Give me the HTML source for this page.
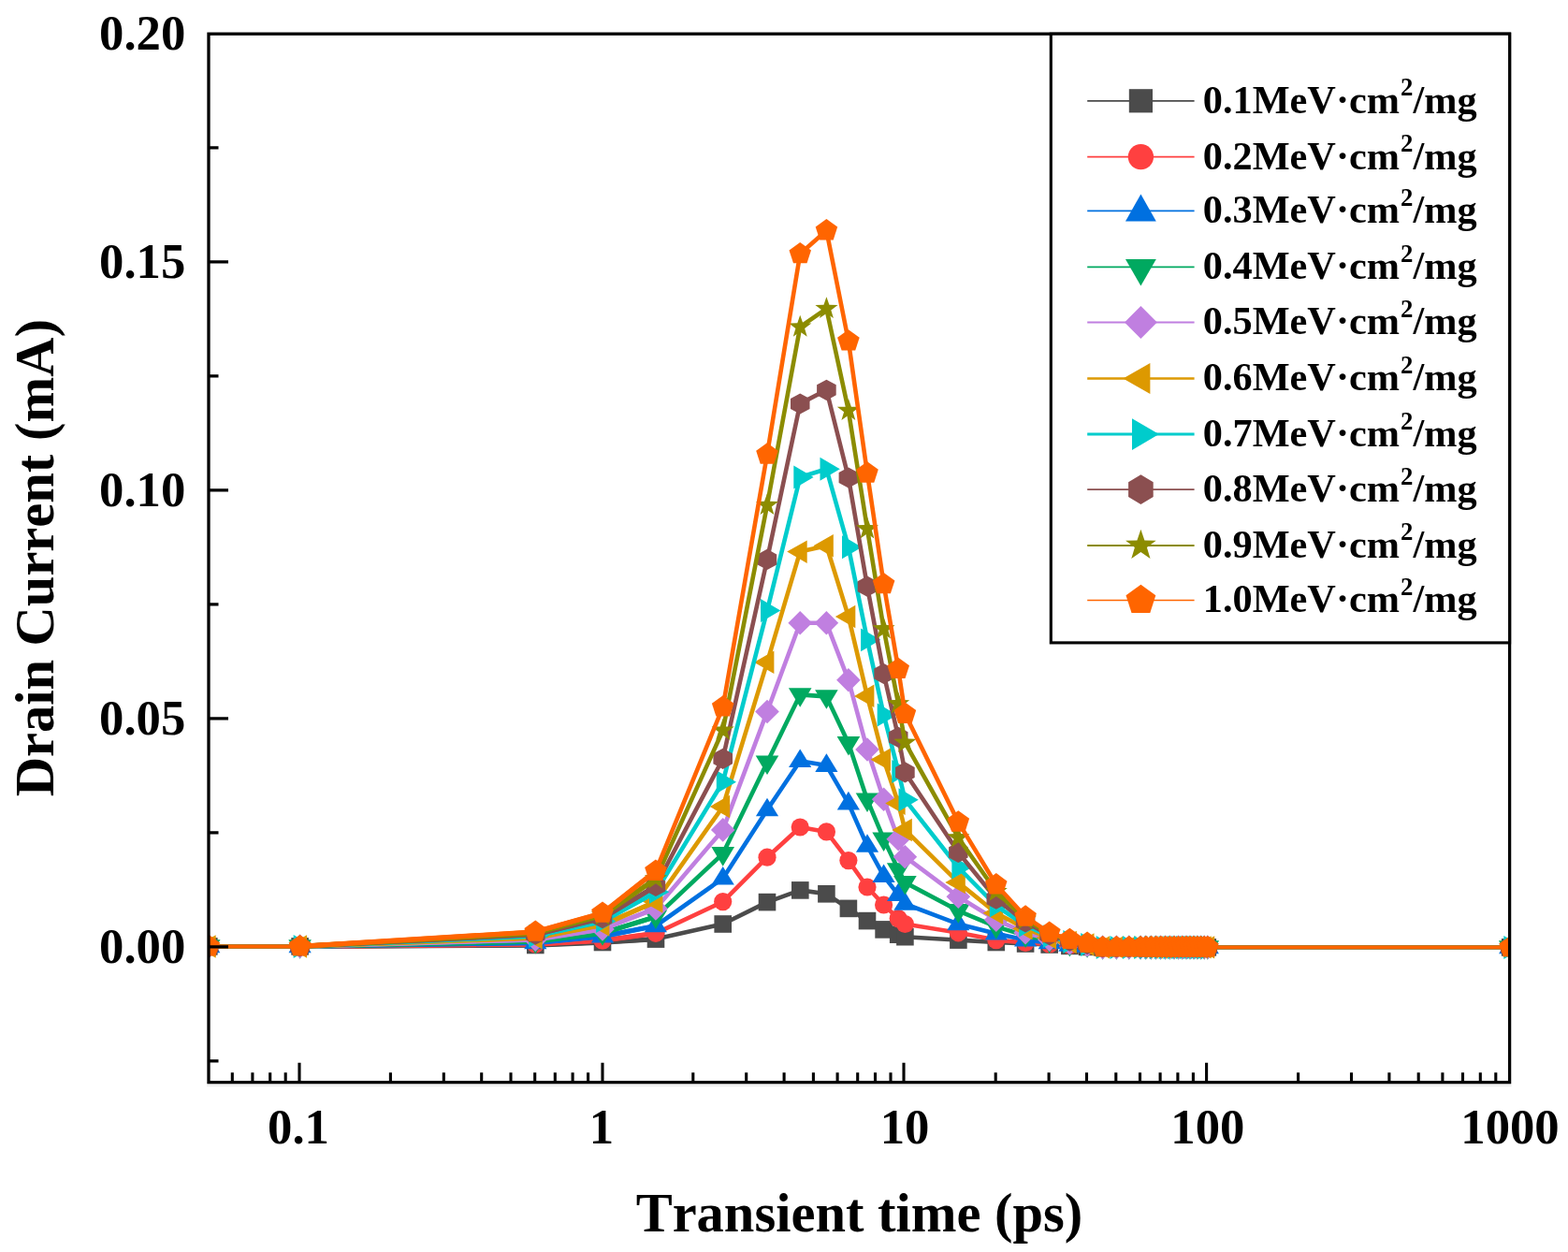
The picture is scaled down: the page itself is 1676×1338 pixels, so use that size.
<!DOCTYPE html>
<html lang="en"><head><meta charset="utf-8"><title>Drain Current vs Transient time</title>
<style>html,body{margin:0;padding:0;background:#fff;}body{width:1676px;height:1338px;overflow:hidden;}svg{display:block;}text{font-family:"Liberation Serif",serif;font-weight:bold;fill:#000;font-kerning:none;}</style></head><body>
<svg width="1676" height="1338" viewBox="0 0 1676 1338">
<defs><clipPath id="plotclip"><rect x="223.0" y="36.2" width="1390.6" height="1120.5"/></clipPath></defs>
<rect width="1676" height="1338" fill="#fff"/>
<g id="series" clip-path="url(#plotclip)">
<g><polyline points="320.6,1011.4 572.3,1010.0 644.0,1007.0 700.9,1003.6 772.7,987.5 820.0,964.1 855.2,951.4 883.4,955.3 906.9,970.9 927.0,984.1 944.6,993.4 960.2,998.7 967.4,1001.2 1024.3,1004.6 1064.8,1007.0 1096.1,1008.5 1121.7,1009.5 1143.4,1010.9 1162.1,1011.9 1178.6,1012.4 1193.4,1012.4 1206.8,1012.4 1219.1,1012.4 1224.8,1012.4 1230.3,1012.4 1235.6,1012.4 1240.7,1012.4 1245.6,1012.4 1250.4,1012.4 1255.0,1012.4 1259.5,1012.4 1263.8,1012.4 1268.0,1012.4 1272.0,1012.4 1276.0,1012.4 1279.9,1012.4 1283.6,1012.4 1287.2,1012.4 1290.8,1012.4" fill="none" stroke="#4B4B4B" stroke-width="4.6" stroke-linejoin="round"/>
<polyline points="223.2,1011.4 320.6,1011.4" fill="none" stroke="#4B4B4B" stroke-width="4.0"/>
<polyline points="1290.8,1012.4 1614.2,1012.4" fill="none" stroke="#4B4B4B" stroke-width="3.9"/>
<polyline points="320.6,1011.4 572.3,1010.0 644.0,1007.0 700.9,1003.6" fill="none" stroke="#4B4B4B" stroke-width="5.3" stroke-linejoin="round"/>
<rect x="214.0" y="1002.1" width="18.6" height="18.6" fill="#4B4B4B"/>
<rect x="311.3" y="1002.1" width="18.6" height="18.6" fill="#4B4B4B"/>
<rect x="563.0" y="1000.7" width="18.6" height="18.6" fill="#4B4B4B"/>
<rect x="634.7" y="997.7" width="18.6" height="18.6" fill="#4B4B4B"/>
<rect x="691.7" y="994.3" width="18.6" height="18.6" fill="#4B4B4B"/>
<rect x="763.4" y="978.2" width="18.6" height="18.6" fill="#4B4B4B"/>
<rect x="810.7" y="954.8" width="18.6" height="18.6" fill="#4B4B4B"/>
<rect x="846.0" y="942.1" width="18.6" height="18.6" fill="#4B4B4B"/>
<rect x="874.1" y="946.0" width="18.6" height="18.6" fill="#4B4B4B"/>
<rect x="897.6" y="961.6" width="18.6" height="18.6" fill="#4B4B4B"/>
<rect x="917.7" y="974.8" width="18.6" height="18.6" fill="#4B4B4B"/>
<rect x="935.3" y="984.1" width="18.6" height="18.6" fill="#4B4B4B"/>
<rect x="950.9" y="989.4" width="18.6" height="18.6" fill="#4B4B4B"/>
<rect x="958.1" y="991.9" width="18.6" height="18.6" fill="#4B4B4B"/>
<rect x="1015.1" y="995.3" width="18.6" height="18.6" fill="#4B4B4B"/>
<rect x="1055.5" y="997.7" width="18.6" height="18.6" fill="#4B4B4B"/>
<rect x="1086.8" y="999.2" width="18.6" height="18.6" fill="#4B4B4B"/>
<rect x="1112.4" y="1000.2" width="18.6" height="18.6" fill="#4B4B4B"/>
<rect x="1134.1" y="1001.6" width="18.6" height="18.6" fill="#4B4B4B"/>
<rect x="1152.8" y="1002.6" width="18.6" height="18.6" fill="#4B4B4B"/>
<rect x="1169.4" y="1003.1" width="18.6" height="18.6" fill="#4B4B4B"/>
<rect x="1184.2" y="1003.1" width="18.6" height="18.6" fill="#4B4B4B"/>
<rect x="1197.5" y="1003.1" width="18.6" height="18.6" fill="#4B4B4B"/>
<rect x="1209.8" y="1003.1" width="18.6" height="18.6" fill="#4B4B4B"/>
<rect x="1215.5" y="1003.1" width="18.6" height="18.6" fill="#4B4B4B"/>
<rect x="1221.0" y="1003.1" width="18.6" height="18.6" fill="#4B4B4B"/>
<rect x="1226.3" y="1003.1" width="18.6" height="18.6" fill="#4B4B4B"/>
<rect x="1231.4" y="1003.1" width="18.6" height="18.6" fill="#4B4B4B"/>
<rect x="1236.3" y="1003.1" width="18.6" height="18.6" fill="#4B4B4B"/>
<rect x="1241.1" y="1003.1" width="18.6" height="18.6" fill="#4B4B4B"/>
<rect x="1245.7" y="1003.1" width="18.6" height="18.6" fill="#4B4B4B"/>
<rect x="1250.2" y="1003.1" width="18.6" height="18.6" fill="#4B4B4B"/>
<rect x="1254.5" y="1003.1" width="18.6" height="18.6" fill="#4B4B4B"/>
<rect x="1258.7" y="1003.1" width="18.6" height="18.6" fill="#4B4B4B"/>
<rect x="1262.8" y="1003.1" width="18.6" height="18.6" fill="#4B4B4B"/>
<rect x="1266.7" y="1003.1" width="18.6" height="18.6" fill="#4B4B4B"/>
<rect x="1270.6" y="1003.1" width="18.6" height="18.6" fill="#4B4B4B"/>
<rect x="1274.3" y="1003.1" width="18.6" height="18.6" fill="#4B4B4B"/>
<rect x="1278.0" y="1003.1" width="18.6" height="18.6" fill="#4B4B4B"/>
<rect x="1281.5" y="1003.1" width="18.6" height="18.6" fill="#4B4B4B"/>
<rect x="1604.9" y="1003.1" width="18.6" height="18.6" fill="#4B4B4B"/>
</g>
<g><polyline points="320.6,1011.4 572.3,1009.0 644.0,1005.1 700.9,997.3 772.7,963.6 820.0,916.2 855.2,884.0 883.4,888.9 906.9,919.6 927.0,948.0 944.6,967.0 960.2,981.6 967.4,987.5 1024.3,996.8 1064.8,1004.6 1096.1,1007.5 1121.7,1009.0 1143.4,1010.4 1162.1,1011.4 1178.6,1012.4 1193.4,1012.4 1206.8,1012.4 1219.1,1012.4 1224.8,1012.4 1230.3,1012.4 1235.6,1012.4 1240.7,1012.4 1245.6,1012.4 1250.4,1012.4 1255.0,1012.4 1259.5,1012.4 1263.8,1012.4 1268.0,1012.4 1272.0,1012.4 1276.0,1012.4 1279.9,1012.4 1283.6,1012.4 1287.2,1012.4 1290.8,1012.4" fill="none" stroke="#FF4040" stroke-width="4.6" stroke-linejoin="round"/>
<polyline points="223.2,1011.4 320.6,1011.4" fill="none" stroke="#FF4040" stroke-width="4.0"/>
<polyline points="1290.8,1012.4 1614.2,1012.4" fill="none" stroke="#FF4040" stroke-width="3.9"/>
<polyline points="320.6,1011.4 572.3,1009.0 644.0,1005.1 700.9,997.3" fill="none" stroke="#FF4040" stroke-width="5.3" stroke-linejoin="round"/>
<circle cx="223.2" cy="1011.4" r="9.6" fill="#FF4040"/>
<circle cx="320.6" cy="1011.4" r="9.6" fill="#FF4040"/>
<circle cx="572.3" cy="1009.0" r="9.6" fill="#FF4040"/>
<circle cx="644.0" cy="1005.1" r="9.6" fill="#FF4040"/>
<circle cx="700.9" cy="997.3" r="9.6" fill="#FF4040"/>
<circle cx="772.7" cy="963.6" r="9.6" fill="#FF4040"/>
<circle cx="820.0" cy="916.2" r="9.6" fill="#FF4040"/>
<circle cx="855.2" cy="884.0" r="9.6" fill="#FF4040"/>
<circle cx="883.4" cy="888.9" r="9.6" fill="#FF4040"/>
<circle cx="906.9" cy="919.6" r="9.6" fill="#FF4040"/>
<circle cx="927.0" cy="948.0" r="9.6" fill="#FF4040"/>
<circle cx="944.6" cy="967.0" r="9.6" fill="#FF4040"/>
<circle cx="960.2" cy="981.6" r="9.6" fill="#FF4040"/>
<circle cx="967.4" cy="987.5" r="9.6" fill="#FF4040"/>
<circle cx="1024.3" cy="996.8" r="9.6" fill="#FF4040"/>
<circle cx="1064.8" cy="1004.6" r="9.6" fill="#FF4040"/>
<circle cx="1096.1" cy="1007.5" r="9.6" fill="#FF4040"/>
<circle cx="1121.7" cy="1009.0" r="9.6" fill="#FF4040"/>
<circle cx="1143.4" cy="1010.4" r="9.6" fill="#FF4040"/>
<circle cx="1162.1" cy="1011.4" r="9.6" fill="#FF4040"/>
<circle cx="1178.6" cy="1012.4" r="9.6" fill="#FF4040"/>
<circle cx="1193.4" cy="1012.4" r="9.6" fill="#FF4040"/>
<circle cx="1206.8" cy="1012.4" r="9.6" fill="#FF4040"/>
<circle cx="1219.1" cy="1012.4" r="9.6" fill="#FF4040"/>
<circle cx="1224.8" cy="1012.4" r="9.6" fill="#FF4040"/>
<circle cx="1230.3" cy="1012.4" r="9.6" fill="#FF4040"/>
<circle cx="1235.6" cy="1012.4" r="9.6" fill="#FF4040"/>
<circle cx="1240.7" cy="1012.4" r="9.6" fill="#FF4040"/>
<circle cx="1245.6" cy="1012.4" r="9.6" fill="#FF4040"/>
<circle cx="1250.4" cy="1012.4" r="9.6" fill="#FF4040"/>
<circle cx="1255.0" cy="1012.4" r="9.6" fill="#FF4040"/>
<circle cx="1259.5" cy="1012.4" r="9.6" fill="#FF4040"/>
<circle cx="1263.8" cy="1012.4" r="9.6" fill="#FF4040"/>
<circle cx="1268.0" cy="1012.4" r="9.6" fill="#FF4040"/>
<circle cx="1272.0" cy="1012.4" r="9.6" fill="#FF4040"/>
<circle cx="1276.0" cy="1012.4" r="9.6" fill="#FF4040"/>
<circle cx="1279.9" cy="1012.4" r="9.6" fill="#FF4040"/>
<circle cx="1283.6" cy="1012.4" r="9.6" fill="#FF4040"/>
<circle cx="1287.2" cy="1012.4" r="9.6" fill="#FF4040"/>
<circle cx="1290.8" cy="1012.4" r="9.6" fill="#FF4040"/>
<circle cx="1614.2" cy="1012.4" r="9.6" fill="#FF4040"/>
</g>
<g><polyline points="320.6,1011.4 572.3,1007.5 644.0,1000.7 700.9,989.5 772.7,938.7 820.0,865.5 855.2,813.2 883.4,818.1 906.9,858.6 927.0,904.0 944.6,936.2 960.2,956.3 967.4,966.0 1024.3,987.5 1064.8,997.8 1096.1,1004.6 1121.7,1007.5 1143.4,1010.0 1162.1,1010.9 1178.6,1012.4 1193.4,1012.4 1206.8,1012.4 1219.1,1012.4 1224.8,1012.4 1230.3,1012.4 1235.6,1012.4 1240.7,1012.4 1245.6,1012.4 1250.4,1012.4 1255.0,1012.4 1259.5,1012.4 1263.8,1012.4 1268.0,1012.4 1272.0,1012.4 1276.0,1012.4 1279.9,1012.4 1283.6,1012.4 1287.2,1012.4 1290.8,1012.4" fill="none" stroke="#0070E0" stroke-width="4.6" stroke-linejoin="round"/>
<polyline points="223.2,1011.4 320.6,1011.4" fill="none" stroke="#0070E0" stroke-width="4.0"/>
<polyline points="1290.8,1012.4 1614.2,1012.4" fill="none" stroke="#0070E0" stroke-width="3.9"/>
<polyline points="320.6,1011.4 572.3,1007.5 644.0,1000.7 700.9,989.5" fill="none" stroke="#0070E0" stroke-width="5.3" stroke-linejoin="round"/>
<polygon points="223.2,998.6 235.3,1018.2 211.1,1018.2" fill="#0070E0"/>
<polygon points="320.6,998.6 332.7,1018.2 308.5,1018.2" fill="#0070E0"/>
<polygon points="572.3,994.7 584.4,1014.3 560.2,1014.3" fill="#0070E0"/>
<polygon points="644.0,987.9 656.1,1007.5 631.9,1007.5" fill="#0070E0"/>
<polygon points="700.9,976.7 713.0,996.3 688.8,996.3" fill="#0070E0"/>
<polygon points="772.7,925.9 784.8,945.5 760.6,945.5" fill="#0070E0"/>
<polygon points="820.0,852.7 832.1,872.3 807.9,872.3" fill="#0070E0"/>
<polygon points="855.2,800.4 867.3,820.0 843.1,820.0" fill="#0070E0"/>
<polygon points="883.4,805.3 895.5,824.9 871.3,824.9" fill="#0070E0"/>
<polygon points="906.9,845.8 919.0,865.4 894.8,865.4" fill="#0070E0"/>
<polygon points="927.0,891.2 939.1,910.8 914.9,910.8" fill="#0070E0"/>
<polygon points="944.6,923.4 956.7,943.0 932.5,943.0" fill="#0070E0"/>
<polygon points="960.2,943.5 972.3,963.1 948.1,963.1" fill="#0070E0"/>
<polygon points="967.4,953.2 979.5,972.8 955.3,972.8" fill="#0070E0"/>
<polygon points="1024.3,974.7 1036.4,994.3 1012.2,994.3" fill="#0070E0"/>
<polygon points="1064.8,985.0 1076.9,1004.6 1052.7,1004.6" fill="#0070E0"/>
<polygon points="1096.1,991.8 1108.2,1011.4 1084.0,1011.4" fill="#0070E0"/>
<polygon points="1121.7,994.7 1133.8,1014.3 1109.6,1014.3" fill="#0070E0"/>
<polygon points="1143.4,997.2 1155.5,1016.8 1131.3,1016.8" fill="#0070E0"/>
<polygon points="1162.1,998.1 1174.2,1017.7 1150.0,1017.7" fill="#0070E0"/>
<polygon points="1178.6,999.6 1190.7,1019.2 1166.5,1019.2" fill="#0070E0"/>
<polygon points="1193.4,999.6 1205.5,1019.2 1181.3,1019.2" fill="#0070E0"/>
<polygon points="1206.8,999.6 1218.9,1019.2 1194.7,1019.2" fill="#0070E0"/>
<polygon points="1219.1,999.6 1231.2,1019.2 1207.0,1019.2" fill="#0070E0"/>
<polygon points="1224.8,999.6 1236.9,1019.2 1212.7,1019.2" fill="#0070E0"/>
<polygon points="1230.3,999.6 1242.4,1019.2 1218.2,1019.2" fill="#0070E0"/>
<polygon points="1235.6,999.6 1247.7,1019.2 1223.5,1019.2" fill="#0070E0"/>
<polygon points="1240.7,999.6 1252.8,1019.2 1228.6,1019.2" fill="#0070E0"/>
<polygon points="1245.6,999.6 1257.7,1019.2 1233.5,1019.2" fill="#0070E0"/>
<polygon points="1250.4,999.6 1262.5,1019.2 1238.3,1019.2" fill="#0070E0"/>
<polygon points="1255.0,999.6 1267.1,1019.2 1242.9,1019.2" fill="#0070E0"/>
<polygon points="1259.5,999.6 1271.6,1019.2 1247.4,1019.2" fill="#0070E0"/>
<polygon points="1263.8,999.6 1275.9,1019.2 1251.7,1019.2" fill="#0070E0"/>
<polygon points="1268.0,999.6 1280.1,1019.2 1255.9,1019.2" fill="#0070E0"/>
<polygon points="1272.0,999.6 1284.1,1019.2 1259.9,1019.2" fill="#0070E0"/>
<polygon points="1276.0,999.6 1288.1,1019.2 1263.9,1019.2" fill="#0070E0"/>
<polygon points="1279.9,999.6 1292.0,1019.2 1267.8,1019.2" fill="#0070E0"/>
<polygon points="1283.6,999.6 1295.7,1019.2 1271.5,1019.2" fill="#0070E0"/>
<polygon points="1287.2,999.6 1299.3,1019.2 1275.1,1019.2" fill="#0070E0"/>
<polygon points="1290.8,999.6 1302.9,1019.2 1278.7,1019.2" fill="#0070E0"/>
<polygon points="1614.2,999.6 1626.3,1019.2 1602.1,1019.2" fill="#0070E0"/>
</g>
<g><polyline points="320.6,1011.4 572.3,1006.1 644.0,997.3 700.9,979.7 772.7,912.3 820.0,814.7 855.2,742.4 883.4,744.4 906.9,794.2 927.0,854.7 944.6,896.7 960.2,929.4 967.4,943.1 1024.3,973.3 1064.8,990.4 1096.1,999.7 1121.7,1005.6 1143.4,1009.0 1162.1,1010.4 1178.6,1012.4 1193.4,1012.4 1206.8,1012.4 1219.1,1012.4 1224.8,1012.4 1230.3,1012.4 1235.6,1012.4 1240.7,1012.4 1245.6,1012.4 1250.4,1012.4 1255.0,1012.4 1259.5,1012.4 1263.8,1012.4 1268.0,1012.4 1272.0,1012.4 1276.0,1012.4 1279.9,1012.4 1283.6,1012.4 1287.2,1012.4 1290.8,1012.4" fill="none" stroke="#00A960" stroke-width="4.6" stroke-linejoin="round"/>
<polyline points="223.2,1011.4 320.6,1011.4" fill="none" stroke="#00A960" stroke-width="4.0"/>
<polyline points="1290.8,1012.4 1614.2,1012.4" fill="none" stroke="#00A960" stroke-width="3.9"/>
<polyline points="320.6,1011.4 572.3,1006.1 644.0,997.3 700.9,979.7" fill="none" stroke="#00A960" stroke-width="5.3" stroke-linejoin="round"/>
<polygon points="223.2,1024.8 235.5,1004.2 210.9,1004.2" fill="#00A960"/>
<polygon points="320.6,1024.8 332.9,1004.2 308.3,1004.2" fill="#00A960"/>
<polygon points="572.3,1019.5 584.6,998.9 560.0,998.9" fill="#00A960"/>
<polygon points="644.0,1010.7 656.3,990.1 631.7,990.1" fill="#00A960"/>
<polygon points="700.9,993.1 713.2,972.5 688.6,972.5" fill="#00A960"/>
<polygon points="772.7,925.7 785.0,905.1 760.4,905.1" fill="#00A960"/>
<polygon points="820.0,828.1 832.3,807.5 807.7,807.5" fill="#00A960"/>
<polygon points="855.2,755.8 867.5,735.2 842.9,735.2" fill="#00A960"/>
<polygon points="883.4,757.8 895.7,737.2 871.1,737.2" fill="#00A960"/>
<polygon points="906.9,807.6 919.2,787.0 894.6,787.0" fill="#00A960"/>
<polygon points="927.0,868.1 939.3,847.5 914.7,847.5" fill="#00A960"/>
<polygon points="944.6,910.1 956.9,889.5 932.3,889.5" fill="#00A960"/>
<polygon points="960.2,942.8 972.5,922.2 947.9,922.2" fill="#00A960"/>
<polygon points="967.4,956.5 979.7,935.9 955.1,935.9" fill="#00A960"/>
<polygon points="1024.3,986.7 1036.6,966.1 1012.0,966.1" fill="#00A960"/>
<polygon points="1064.8,1003.8 1077.1,983.2 1052.5,983.2" fill="#00A960"/>
<polygon points="1096.1,1013.1 1108.4,992.5 1083.8,992.5" fill="#00A960"/>
<polygon points="1121.7,1019.0 1134.0,998.4 1109.4,998.4" fill="#00A960"/>
<polygon points="1143.4,1022.4 1155.7,1001.8 1131.1,1001.8" fill="#00A960"/>
<polygon points="1162.1,1023.8 1174.4,1003.2 1149.8,1003.2" fill="#00A960"/>
<polygon points="1178.6,1025.8 1190.9,1005.2 1166.3,1005.2" fill="#00A960"/>
<polygon points="1193.4,1025.8 1205.7,1005.2 1181.1,1005.2" fill="#00A960"/>
<polygon points="1206.8,1025.8 1219.1,1005.2 1194.5,1005.2" fill="#00A960"/>
<polygon points="1219.1,1025.8 1231.4,1005.2 1206.8,1005.2" fill="#00A960"/>
<polygon points="1224.8,1025.8 1237.1,1005.2 1212.5,1005.2" fill="#00A960"/>
<polygon points="1230.3,1025.8 1242.6,1005.2 1218.0,1005.2" fill="#00A960"/>
<polygon points="1235.6,1025.8 1247.9,1005.2 1223.3,1005.2" fill="#00A960"/>
<polygon points="1240.7,1025.8 1253.0,1005.2 1228.4,1005.2" fill="#00A960"/>
<polygon points="1245.6,1025.8 1257.9,1005.2 1233.3,1005.2" fill="#00A960"/>
<polygon points="1250.4,1025.8 1262.7,1005.2 1238.1,1005.2" fill="#00A960"/>
<polygon points="1255.0,1025.8 1267.3,1005.2 1242.7,1005.2" fill="#00A960"/>
<polygon points="1259.5,1025.8 1271.8,1005.2 1247.2,1005.2" fill="#00A960"/>
<polygon points="1263.8,1025.8 1276.1,1005.2 1251.5,1005.2" fill="#00A960"/>
<polygon points="1268.0,1025.8 1280.3,1005.2 1255.7,1005.2" fill="#00A960"/>
<polygon points="1272.0,1025.8 1284.3,1005.2 1259.7,1005.2" fill="#00A960"/>
<polygon points="1276.0,1025.8 1288.3,1005.2 1263.7,1005.2" fill="#00A960"/>
<polygon points="1279.9,1025.8 1292.2,1005.2 1267.6,1005.2" fill="#00A960"/>
<polygon points="1283.6,1025.8 1295.9,1005.2 1271.3,1005.2" fill="#00A960"/>
<polygon points="1287.2,1025.8 1299.5,1005.2 1274.9,1005.2" fill="#00A960"/>
<polygon points="1290.8,1025.8 1303.1,1005.2 1278.5,1005.2" fill="#00A960"/>
<polygon points="1614.2,1025.8 1626.5,1005.2 1601.9,1005.2" fill="#00A960"/>
</g>
<g><polyline points="320.6,1011.4 572.3,1004.1 644.0,992.9 700.9,970.9 772.7,886.9 820.0,760.5 855.2,665.8 883.4,665.8 906.9,726.8 927.0,801.0 944.6,854.2 960.2,896.7 967.4,915.7 1024.3,958.2 1064.8,983.1 1096.1,996.8 1121.7,1004.1 1143.4,1008.0 1162.1,1010.0 1178.6,1012.4 1193.4,1012.4 1206.8,1012.4 1219.1,1012.4 1224.8,1012.4 1230.3,1012.4 1235.6,1012.4 1240.7,1012.4 1245.6,1012.4 1250.4,1012.4 1255.0,1012.4 1259.5,1012.4 1263.8,1012.4 1268.0,1012.4 1272.0,1012.4 1276.0,1012.4 1279.9,1012.4 1283.6,1012.4 1287.2,1012.4 1290.8,1012.4" fill="none" stroke="#C07FE0" stroke-width="4.6" stroke-linejoin="round"/>
<polyline points="223.2,1011.4 320.6,1011.4" fill="none" stroke="#C07FE0" stroke-width="4.0"/>
<polyline points="1290.8,1012.4 1614.2,1012.4" fill="none" stroke="#C07FE0" stroke-width="3.9"/>
<polyline points="320.6,1011.4 572.3,1004.1 644.0,992.9 700.9,970.9" fill="none" stroke="#C07FE0" stroke-width="5.3" stroke-linejoin="round"/>
<polygon points="223.2,998.6 236.1,1011.4 223.2,1024.2 210.4,1011.4" fill="#C07FE0"/>
<polygon points="320.6,998.6 333.4,1011.4 320.6,1024.2 307.8,1011.4" fill="#C07FE0"/>
<polygon points="572.3,991.3 585.1,1004.1 572.3,1016.9 559.4,1004.1" fill="#C07FE0"/>
<polygon points="644.0,980.1 656.8,992.9 644.0,1005.7 631.2,992.9" fill="#C07FE0"/>
<polygon points="700.9,958.1 713.8,970.9 700.9,983.7 688.1,970.9" fill="#C07FE0"/>
<polygon points="772.7,874.1 785.5,886.9 772.7,899.7 759.9,886.9" fill="#C07FE0"/>
<polygon points="820.0,747.7 832.8,760.5 820.0,773.3 807.1,760.5" fill="#C07FE0"/>
<polygon points="855.2,653.0 868.1,665.8 855.2,678.6 842.4,665.8" fill="#C07FE0"/>
<polygon points="883.4,653.0 896.2,665.8 883.4,678.6 870.6,665.8" fill="#C07FE0"/>
<polygon points="906.9,714.0 919.7,726.8 906.9,739.6 894.1,726.8" fill="#C07FE0"/>
<polygon points="927.0,788.2 939.8,801.0 927.0,813.8 914.2,801.0" fill="#C07FE0"/>
<polygon points="944.6,841.4 957.4,854.2 944.6,867.0 931.8,854.2" fill="#C07FE0"/>
<polygon points="960.2,883.9 973.0,896.7 960.2,909.5 947.4,896.7" fill="#C07FE0"/>
<polygon points="967.4,902.9 980.2,915.7 967.4,928.6 954.6,915.7" fill="#C07FE0"/>
<polygon points="1024.3,945.4 1037.2,958.2 1024.3,971.0 1011.5,958.2" fill="#C07FE0"/>
<polygon points="1064.8,970.3 1077.6,983.1 1064.8,995.9 1051.9,983.1" fill="#C07FE0"/>
<polygon points="1096.1,984.0 1108.9,996.8 1096.1,1009.6 1083.3,996.8" fill="#C07FE0"/>
<polygon points="1121.7,991.3 1134.5,1004.1 1121.7,1016.9 1108.9,1004.1" fill="#C07FE0"/>
<polygon points="1143.4,995.2 1156.2,1008.0 1143.4,1020.8 1130.5,1008.0" fill="#C07FE0"/>
<polygon points="1162.1,997.1 1174.9,1010.0 1162.1,1022.8 1149.3,1010.0" fill="#C07FE0"/>
<polygon points="1178.6,999.6 1191.5,1012.4 1178.6,1025.2 1165.8,1012.4" fill="#C07FE0"/>
<polygon points="1193.4,999.6 1206.3,1012.4 1193.4,1025.2 1180.6,1012.4" fill="#C07FE0"/>
<polygon points="1206.8,999.6 1219.6,1012.4 1206.8,1025.2 1194.0,1012.4" fill="#C07FE0"/>
<polygon points="1219.1,999.6 1231.9,1012.4 1219.1,1025.2 1206.2,1012.4" fill="#C07FE0"/>
<polygon points="1224.8,999.6 1237.6,1012.4 1224.8,1025.2 1212.0,1012.4" fill="#C07FE0"/>
<polygon points="1230.3,999.6 1243.1,1012.4 1230.3,1025.2 1217.5,1012.4" fill="#C07FE0"/>
<polygon points="1235.6,999.6 1248.4,1012.4 1235.6,1025.2 1222.8,1012.4" fill="#C07FE0"/>
<polygon points="1240.7,999.6 1253.5,1012.4 1240.7,1025.2 1227.9,1012.4" fill="#C07FE0"/>
<polygon points="1245.6,999.6 1258.4,1012.4 1245.6,1025.2 1232.8,1012.4" fill="#C07FE0"/>
<polygon points="1250.4,999.6 1263.2,1012.4 1250.4,1025.2 1237.6,1012.4" fill="#C07FE0"/>
<polygon points="1255.0,999.6 1267.8,1012.4 1255.0,1025.2 1242.2,1012.4" fill="#C07FE0"/>
<polygon points="1259.5,999.6 1272.3,1012.4 1259.5,1025.2 1246.6,1012.4" fill="#C07FE0"/>
<polygon points="1263.8,999.6 1276.6,1012.4 1263.8,1025.2 1251.0,1012.4" fill="#C07FE0"/>
<polygon points="1268.0,999.6 1280.8,1012.4 1268.0,1025.2 1255.2,1012.4" fill="#C07FE0"/>
<polygon points="1272.0,999.6 1284.9,1012.4 1272.0,1025.2 1259.2,1012.4" fill="#C07FE0"/>
<polygon points="1276.0,999.6 1288.8,1012.4 1276.0,1025.2 1263.2,1012.4" fill="#C07FE0"/>
<polygon points="1279.9,999.6 1292.7,1012.4 1279.9,1025.2 1267.0,1012.4" fill="#C07FE0"/>
<polygon points="1283.6,999.6 1296.4,1012.4 1283.6,1025.2 1270.8,1012.4" fill="#C07FE0"/>
<polygon points="1287.2,999.6 1300.1,1012.4 1287.2,1025.2 1274.4,1012.4" fill="#C07FE0"/>
<polygon points="1290.8,999.6 1303.6,1012.4 1290.8,1025.2 1278.0,1012.4" fill="#C07FE0"/>
<polygon points="1614.2,999.6 1627.0,1012.4 1614.2,1025.2 1601.4,1012.4" fill="#C07FE0"/>
</g>
<g><polyline points="320.6,1011.4 572.3,1002.1 644.0,988.5 700.9,963.6 772.7,862.0 820.0,707.8 855.2,589.6 883.4,583.3 906.9,658.9 927.0,743.9 944.6,811.7 960.2,858.6 967.4,886.9 1024.3,943.1 1064.8,975.8 1096.1,992.4 1121.7,1002.1 1143.4,1007.0 1162.1,1009.5 1178.6,1012.4 1193.4,1012.4 1206.8,1012.4 1219.1,1012.4 1224.8,1012.4 1230.3,1012.4 1235.6,1012.4 1240.7,1012.4 1245.6,1012.4 1250.4,1012.4 1255.0,1012.4 1259.5,1012.4 1263.8,1012.4 1268.0,1012.4 1272.0,1012.4 1276.0,1012.4 1279.9,1012.4 1283.6,1012.4 1287.2,1012.4 1290.8,1012.4" fill="none" stroke="#DD9900" stroke-width="4.6" stroke-linejoin="round"/>
<polyline points="223.2,1011.4 320.6,1011.4" fill="none" stroke="#DD9900" stroke-width="4.0"/>
<polyline points="1290.8,1012.4 1614.2,1012.4" fill="none" stroke="#DD9900" stroke-width="3.9"/>
<polyline points="320.6,1011.4 572.3,1002.1 644.0,988.5 700.9,963.6" fill="none" stroke="#DD9900" stroke-width="5.3" stroke-linejoin="round"/>
<polygon points="209.2,1011.4 230.7,999.2 230.7,1023.7" fill="#DD9900"/>
<polygon points="306.6,1011.4 328.0,999.2 328.0,1023.7" fill="#DD9900"/>
<polygon points="558.2,1002.1 579.7,989.9 579.7,1014.4" fill="#DD9900"/>
<polygon points="630.0,988.5 651.4,976.2 651.4,1000.7" fill="#DD9900"/>
<polygon points="686.9,963.6 708.4,951.3 708.4,975.8" fill="#DD9900"/>
<polygon points="758.7,862.0 780.1,849.8 780.1,874.3" fill="#DD9900"/>
<polygon points="805.9,707.8 827.4,695.5 827.4,720.0" fill="#DD9900"/>
<polygon points="841.2,589.6 862.7,577.4 862.7,601.9" fill="#DD9900"/>
<polygon points="869.4,583.3 890.8,571.0 890.8,595.5" fill="#DD9900"/>
<polygon points="892.9,658.9 914.3,646.7 914.3,671.2" fill="#DD9900"/>
<polygon points="913.0,743.9 934.4,731.6 934.4,756.1" fill="#DD9900"/>
<polygon points="930.5,811.7 952.0,799.5 952.0,824.0" fill="#DD9900"/>
<polygon points="946.2,858.6 967.6,846.4 967.6,870.9" fill="#DD9900"/>
<polygon points="953.4,886.9 974.8,874.7 974.8,899.2" fill="#DD9900"/>
<polygon points="1010.3,943.1 1031.8,930.8 1031.8,955.3" fill="#DD9900"/>
<polygon points="1050.7,975.8 1072.2,963.5 1072.2,988.0" fill="#DD9900"/>
<polygon points="1082.1,992.4 1103.5,980.1 1103.5,1004.6" fill="#DD9900"/>
<polygon points="1107.7,1002.1 1129.1,989.9 1129.1,1014.4" fill="#DD9900"/>
<polygon points="1129.3,1007.0 1150.8,994.8 1150.8,1019.3" fill="#DD9900"/>
<polygon points="1148.1,1009.5 1169.5,997.2 1169.5,1021.7" fill="#DD9900"/>
<polygon points="1164.6,1012.4 1186.1,1000.2 1186.1,1024.6" fill="#DD9900"/>
<polygon points="1179.4,1012.4 1200.9,1000.2 1200.9,1024.6" fill="#DD9900"/>
<polygon points="1192.8,1012.4 1214.2,1000.2 1214.2,1024.6" fill="#DD9900"/>
<polygon points="1205.0,1012.4 1226.5,1000.2 1226.5,1024.6" fill="#DD9900"/>
<polygon points="1210.7,1012.4 1232.2,1000.2 1232.2,1024.6" fill="#DD9900"/>
<polygon points="1216.3,1012.4 1237.7,1000.2 1237.7,1024.6" fill="#DD9900"/>
<polygon points="1221.6,1012.4 1243.0,1000.2 1243.0,1024.6" fill="#DD9900"/>
<polygon points="1226.7,1012.4 1248.1,1000.2 1248.1,1024.6" fill="#DD9900"/>
<polygon points="1231.6,1012.4 1253.0,1000.2 1253.0,1024.6" fill="#DD9900"/>
<polygon points="1236.4,1012.4 1257.8,1000.2 1257.8,1024.6" fill="#DD9900"/>
<polygon points="1241.0,1012.4 1262.4,1000.2 1262.4,1024.6" fill="#DD9900"/>
<polygon points="1245.4,1012.4 1266.9,1000.2 1266.9,1024.6" fill="#DD9900"/>
<polygon points="1249.7,1012.4 1271.2,1000.2 1271.2,1024.6" fill="#DD9900"/>
<polygon points="1253.9,1012.4 1275.4,1000.2 1275.4,1024.6" fill="#DD9900"/>
<polygon points="1258.0,1012.4 1279.5,1000.2 1279.5,1024.6" fill="#DD9900"/>
<polygon points="1262.0,1012.4 1283.4,1000.2 1283.4,1024.6" fill="#DD9900"/>
<polygon points="1265.8,1012.4 1287.3,1000.2 1287.3,1024.6" fill="#DD9900"/>
<polygon points="1269.6,1012.4 1291.0,1000.2 1291.0,1024.6" fill="#DD9900"/>
<polygon points="1273.2,1012.4 1294.7,1000.2 1294.7,1024.6" fill="#DD9900"/>
<polygon points="1276.8,1012.4 1298.2,1000.2 1298.2,1024.6" fill="#DD9900"/>
<polygon points="1600.2,1012.4 1621.6,1000.2 1621.6,1024.6" fill="#DD9900"/>
</g>
<g><polyline points="320.6,1011.4 572.3,1000.2 644.0,984.6 700.9,953.3 772.7,835.7 820.0,652.6 855.2,510.0 883.4,501.3 906.9,584.7 927.0,683.8 944.6,763.9 960.2,824.4 967.4,854.7 1024.3,927.0 1064.8,968.0 1096.1,989.0 1121.7,1000.7 1143.4,1006.5 1162.1,1009.5 1178.6,1012.4 1193.4,1012.4 1206.8,1012.4 1219.1,1012.4 1224.8,1012.4 1230.3,1012.4 1235.6,1012.4 1240.7,1012.4 1245.6,1012.4 1250.4,1012.4 1255.0,1012.4 1259.5,1012.4 1263.8,1012.4 1268.0,1012.4 1272.0,1012.4 1276.0,1012.4 1279.9,1012.4 1283.6,1012.4 1287.2,1012.4 1290.8,1012.4" fill="none" stroke="#00CCCC" stroke-width="4.6" stroke-linejoin="round"/>
<polyline points="223.2,1011.4 320.6,1011.4" fill="none" stroke="#00CCCC" stroke-width="4.0"/>
<polyline points="1290.8,1012.4 1614.2,1012.4" fill="none" stroke="#00CCCC" stroke-width="3.9"/>
<polyline points="320.6,1011.4 572.3,1000.2 644.0,984.6 700.9,953.3" fill="none" stroke="#00CCCC" stroke-width="5.3" stroke-linejoin="round"/>
<polygon points="237.6,1011.4 216.3,999.0 216.3,1023.9" fill="#00CCCC"/>
<polygon points="334.9,1011.4 313.7,999.0 313.7,1023.9" fill="#00CCCC"/>
<polygon points="586.6,1000.2 565.3,987.7 565.3,1012.7" fill="#00CCCC"/>
<polygon points="658.3,984.6 637.1,972.1 637.1,997.0" fill="#00CCCC"/>
<polygon points="715.3,953.3 694.0,940.9 694.0,965.8" fill="#00CCCC"/>
<polygon points="787.0,835.7 765.8,823.2 765.8,848.1" fill="#00CCCC"/>
<polygon points="834.3,652.6 813.0,640.1 813.0,665.1" fill="#00CCCC"/>
<polygon points="869.6,510.0 848.3,497.6 848.3,522.5" fill="#00CCCC"/>
<polygon points="897.8,501.3 876.5,488.8 876.5,513.7" fill="#00CCCC"/>
<polygon points="921.2,584.7 900.0,572.3 900.0,597.2" fill="#00CCCC"/>
<polygon points="941.3,683.8 920.1,671.4 920.1,696.3" fill="#00CCCC"/>
<polygon points="958.9,763.9 937.7,751.5 937.7,776.4" fill="#00CCCC"/>
<polygon points="974.5,824.4 953.3,812.0 953.3,836.9" fill="#00CCCC"/>
<polygon points="981.7,854.7 960.5,842.3 960.5,867.2" fill="#00CCCC"/>
<polygon points="1038.7,927.0 1017.4,914.5 1017.4,939.4" fill="#00CCCC"/>
<polygon points="1079.1,968.0 1057.8,955.5 1057.8,980.4" fill="#00CCCC"/>
<polygon points="1110.4,989.0 1089.2,976.5 1089.2,1001.4" fill="#00CCCC"/>
<polygon points="1136.0,1000.7 1114.8,988.2 1114.8,1013.1" fill="#00CCCC"/>
<polygon points="1157.7,1006.5 1136.4,994.1 1136.4,1019.0" fill="#00CCCC"/>
<polygon points="1176.4,1009.5 1155.2,997.0 1155.2,1021.9" fill="#00CCCC"/>
<polygon points="1193.0,1012.4 1171.7,999.9 1171.7,1024.9" fill="#00CCCC"/>
<polygon points="1207.8,1012.4 1186.5,999.9 1186.5,1024.9" fill="#00CCCC"/>
<polygon points="1221.2,1012.4 1199.9,999.9 1199.9,1024.9" fill="#00CCCC"/>
<polygon points="1233.4,1012.4 1212.1,999.9 1212.1,1024.9" fill="#00CCCC"/>
<polygon points="1239.1,1012.4 1217.9,999.9 1217.9,1024.9" fill="#00CCCC"/>
<polygon points="1244.6,1012.4 1223.4,999.9 1223.4,1024.9" fill="#00CCCC"/>
<polygon points="1249.9,1012.4 1228.7,999.9 1228.7,1024.9" fill="#00CCCC"/>
<polygon points="1255.0,1012.4 1233.8,999.9 1233.8,1024.9" fill="#00CCCC"/>
<polygon points="1260.0,1012.4 1238.7,999.9 1238.7,1024.9" fill="#00CCCC"/>
<polygon points="1264.7,1012.4 1243.5,999.9 1243.5,1024.9" fill="#00CCCC"/>
<polygon points="1269.3,1012.4 1248.1,999.9 1248.1,1024.9" fill="#00CCCC"/>
<polygon points="1273.8,1012.4 1252.5,999.9 1252.5,1024.9" fill="#00CCCC"/>
<polygon points="1278.1,1012.4 1256.9,999.9 1256.9,1024.9" fill="#00CCCC"/>
<polygon points="1282.3,1012.4 1261.1,999.9 1261.1,1024.9" fill="#00CCCC"/>
<polygon points="1286.4,1012.4 1265.1,999.9 1265.1,1024.9" fill="#00CCCC"/>
<polygon points="1290.3,1012.4 1269.1,999.9 1269.1,1024.9" fill="#00CCCC"/>
<polygon points="1294.2,1012.4 1272.9,999.9 1272.9,1024.9" fill="#00CCCC"/>
<polygon points="1297.9,1012.4 1276.7,999.9 1276.7,1024.9" fill="#00CCCC"/>
<polygon points="1301.6,1012.4 1280.3,999.9 1280.3,1024.9" fill="#00CCCC"/>
<polygon points="1305.1,1012.4 1283.9,999.9 1283.9,1024.9" fill="#00CCCC"/>
<polygon points="1628.5,1012.4 1607.3,999.9 1607.3,1024.9" fill="#00CCCC"/>
</g>
<g><polyline points="320.6,1011.4 572.3,998.7 644.0,981.2 700.9,947.0 772.7,810.8 820.0,597.9 855.2,431.4 883.4,416.8 906.9,510.5 927.0,626.7 944.6,720.0 960.2,787.8 967.4,825.4 1024.3,910.9 1064.8,960.7 1096.1,985.5 1121.7,999.2 1143.4,1005.6 1162.1,1009.0 1178.6,1012.4 1193.4,1012.4 1206.8,1012.4 1219.1,1012.4 1224.8,1012.4 1230.3,1012.4 1235.6,1012.4 1240.7,1012.4 1245.6,1012.4 1250.4,1012.4 1255.0,1012.4 1259.5,1012.4 1263.8,1012.4 1268.0,1012.4 1272.0,1012.4 1276.0,1012.4 1279.9,1012.4 1283.6,1012.4 1287.2,1012.4 1290.8,1012.4" fill="none" stroke="#8B4F50" stroke-width="4.6" stroke-linejoin="round"/>
<polyline points="223.2,1011.4 320.6,1011.4" fill="none" stroke="#8B4F50" stroke-width="4.0"/>
<polyline points="1290.8,1012.4 1614.2,1012.4" fill="none" stroke="#8B4F50" stroke-width="3.9"/>
<polyline points="320.6,1011.4 572.3,998.7 644.0,981.2 700.9,947.0" fill="none" stroke="#8B4F50" stroke-width="5.3" stroke-linejoin="round"/>
<polygon points="223.2,1000.3 233.5,1005.9 233.5,1017.0 223.2,1022.5 213.0,1017.0 213.0,1005.9" fill="#8B4F50"/>
<polygon points="320.6,1000.3 330.9,1005.9 330.9,1017.0 320.6,1022.5 310.3,1017.0 310.3,1005.9" fill="#8B4F50"/>
<polygon points="572.3,987.6 582.6,993.2 582.6,1004.3 572.3,1009.8 562.0,1004.3 562.0,993.2" fill="#8B4F50"/>
<polygon points="644.0,970.1 654.3,975.6 654.3,986.7 644.0,992.2 633.7,986.7 633.7,975.6" fill="#8B4F50"/>
<polygon points="700.9,935.9 711.2,941.4 711.2,952.5 700.9,958.1 690.7,952.5 690.7,941.4" fill="#8B4F50"/>
<polygon points="772.7,799.7 783.0,805.2 783.0,816.3 772.7,821.9 762.4,816.3 762.4,805.2" fill="#8B4F50"/>
<polygon points="820.0,586.8 830.2,592.4 830.2,603.5 820.0,609.0 809.7,603.5 809.7,592.4" fill="#8B4F50"/>
<polygon points="855.2,420.4 865.5,425.9 865.5,437.0 855.2,442.5 845.0,437.0 845.0,425.9" fill="#8B4F50"/>
<polygon points="883.4,405.7 893.7,411.3 893.7,422.3 883.4,427.9 873.1,422.3 873.1,411.3" fill="#8B4F50"/>
<polygon points="906.9,499.4 917.2,505.0 917.2,516.1 906.9,521.6 896.6,516.1 896.6,505.0" fill="#8B4F50"/>
<polygon points="927.0,615.6 937.3,621.2 937.3,632.3 927.0,637.8 916.7,632.3 916.7,621.2" fill="#8B4F50"/>
<polygon points="944.6,708.9 954.9,714.4 954.9,725.5 944.6,731.1 934.3,725.5 934.3,714.4" fill="#8B4F50"/>
<polygon points="960.2,776.7 970.5,782.3 970.5,793.4 960.2,798.9 949.9,793.4 949.9,782.3" fill="#8B4F50"/>
<polygon points="967.4,814.3 977.7,819.9 977.7,831.0 967.4,836.5 957.1,831.0 957.1,819.9" fill="#8B4F50"/>
<polygon points="1024.3,899.8 1034.6,905.3 1034.6,916.4 1024.3,921.9 1014.1,916.4 1014.1,905.3" fill="#8B4F50"/>
<polygon points="1064.8,949.6 1075.0,955.1 1075.0,966.2 1064.8,971.7 1054.5,966.2 1054.5,955.1" fill="#8B4F50"/>
<polygon points="1096.1,974.5 1106.4,980.0 1106.4,991.1 1096.1,996.6 1085.8,991.1 1085.8,980.0" fill="#8B4F50"/>
<polygon points="1121.7,988.1 1132.0,993.7 1132.0,1004.8 1121.7,1010.3 1111.4,1004.8 1111.4,993.7" fill="#8B4F50"/>
<polygon points="1143.4,994.5 1153.6,1000.0 1153.6,1011.1 1143.4,1016.7 1133.1,1011.1 1133.1,1000.0" fill="#8B4F50"/>
<polygon points="1162.1,997.9 1172.4,1003.4 1172.4,1014.5 1162.1,1020.1 1151.8,1014.5 1151.8,1003.4" fill="#8B4F50"/>
<polygon points="1178.6,1001.3 1188.9,1006.9 1188.9,1017.9 1178.6,1023.5 1168.4,1017.9 1168.4,1006.9" fill="#8B4F50"/>
<polygon points="1193.4,1001.3 1203.7,1006.9 1203.7,1017.9 1193.4,1023.5 1183.2,1017.9 1183.2,1006.9" fill="#8B4F50"/>
<polygon points="1206.8,1001.3 1217.1,1006.9 1217.1,1017.9 1206.8,1023.5 1196.5,1017.9 1196.5,1006.9" fill="#8B4F50"/>
<polygon points="1219.1,1001.3 1229.4,1006.9 1229.4,1017.9 1219.1,1023.5 1208.8,1017.9 1208.8,1006.9" fill="#8B4F50"/>
<polygon points="1224.8,1001.3 1235.1,1006.9 1235.1,1017.9 1224.8,1023.5 1214.5,1017.9 1214.5,1006.9" fill="#8B4F50"/>
<polygon points="1230.3,1001.3 1240.6,1006.9 1240.6,1017.9 1230.3,1023.5 1220.0,1017.9 1220.0,1006.9" fill="#8B4F50"/>
<polygon points="1235.6,1001.3 1245.9,1006.9 1245.9,1017.9 1235.6,1023.5 1225.3,1017.9 1225.3,1006.9" fill="#8B4F50"/>
<polygon points="1240.7,1001.3 1251.0,1006.9 1251.0,1017.9 1240.7,1023.5 1230.4,1017.9 1230.4,1006.9" fill="#8B4F50"/>
<polygon points="1245.6,1001.3 1255.9,1006.9 1255.9,1017.9 1245.6,1023.5 1235.3,1017.9 1235.3,1006.9" fill="#8B4F50"/>
<polygon points="1250.4,1001.3 1260.7,1006.9 1260.7,1017.9 1250.4,1023.5 1240.1,1017.9 1240.1,1006.9" fill="#8B4F50"/>
<polygon points="1255.0,1001.3 1265.3,1006.9 1265.3,1017.9 1255.0,1023.5 1244.7,1017.9 1244.7,1006.9" fill="#8B4F50"/>
<polygon points="1259.5,1001.3 1269.8,1006.9 1269.8,1017.9 1259.5,1023.5 1249.2,1017.9 1249.2,1006.9" fill="#8B4F50"/>
<polygon points="1263.8,1001.3 1274.1,1006.9 1274.1,1017.9 1263.8,1023.5 1253.5,1017.9 1253.5,1006.9" fill="#8B4F50"/>
<polygon points="1268.0,1001.3 1278.3,1006.9 1278.3,1017.9 1268.0,1023.5 1257.7,1017.9 1257.7,1006.9" fill="#8B4F50"/>
<polygon points="1272.0,1001.3 1282.3,1006.9 1282.3,1017.9 1272.0,1023.5 1261.7,1017.9 1261.7,1006.9" fill="#8B4F50"/>
<polygon points="1276.0,1001.3 1286.3,1006.9 1286.3,1017.9 1276.0,1023.5 1265.7,1017.9 1265.7,1006.9" fill="#8B4F50"/>
<polygon points="1279.9,1001.3 1290.1,1006.9 1290.1,1017.9 1279.9,1023.5 1269.6,1017.9 1269.6,1006.9" fill="#8B4F50"/>
<polygon points="1283.6,1001.3 1293.9,1006.9 1293.9,1017.9 1283.6,1023.5 1273.3,1017.9 1273.3,1006.9" fill="#8B4F50"/>
<polygon points="1287.2,1001.3 1297.5,1006.9 1297.5,1017.9 1287.2,1023.5 1276.9,1017.9 1276.9,1006.9" fill="#8B4F50"/>
<polygon points="1290.8,1001.3 1301.1,1006.9 1301.1,1017.9 1290.8,1023.5 1280.5,1017.9 1280.5,1006.9" fill="#8B4F50"/>
<polygon points="1614.2,1001.3 1624.5,1006.9 1624.5,1017.9 1614.2,1023.5 1603.9,1017.9 1603.9,1006.9" fill="#8B4F50"/>
</g>
<g><polyline points="320.6,1011.4 572.3,997.3 644.0,978.2 700.9,939.2 772.7,780.5 820.0,539.8 855.2,349.4 883.4,329.9 906.9,438.8 927.0,565.2 944.6,672.1 960.2,752.2 967.4,793.7 1024.3,895.2 1064.8,952.8 1096.1,982.6 1121.7,997.8 1143.4,1005.1 1162.1,1008.5 1178.6,1012.4 1193.4,1012.4 1206.8,1012.4 1219.1,1012.4 1224.8,1012.4 1230.3,1012.4 1235.6,1012.4 1240.7,1012.4 1245.6,1012.4 1250.4,1012.4 1255.0,1012.4 1259.5,1012.4 1263.8,1012.4 1268.0,1012.4 1272.0,1012.4 1276.0,1012.4 1279.9,1012.4 1283.6,1012.4 1287.2,1012.4 1290.8,1012.4" fill="none" stroke="#8C8C00" stroke-width="4.6" stroke-linejoin="round"/>
<polyline points="223.2,1011.4 320.6,1011.4" fill="none" stroke="#8C8C00" stroke-width="4.0"/>
<polyline points="1290.8,1012.4 1614.2,1012.4" fill="none" stroke="#8C8C00" stroke-width="3.9"/>
<polyline points="320.6,1011.4 572.3,997.3 644.0,978.2 700.9,939.2" fill="none" stroke="#8C8C00" stroke-width="5.3" stroke-linejoin="round"/>
<polygon points="223.2,998.8 226.2,1007.3 235.3,1007.5 228.1,1013.0 230.7,1021.7 223.2,1016.5 215.8,1021.7 218.4,1013.0 211.2,1007.5 220.3,1007.3" fill="#8C8C00"/>
<polygon points="320.6,998.8 323.6,1007.3 332.7,1007.5 325.4,1013.0 328.0,1021.7 320.6,1016.5 313.2,1021.7 315.8,1013.0 308.5,1007.5 317.6,1007.3" fill="#8C8C00"/>
<polygon points="572.3,984.6 575.2,993.2 584.3,993.3 577.1,998.8 579.7,1007.5 572.3,1002.3 564.8,1007.5 567.4,998.8 560.2,993.3 569.3,993.2" fill="#8C8C00"/>
<polygon points="644.0,965.6 647.0,974.1 656.1,974.3 648.8,979.8 651.4,988.5 644.0,983.3 636.6,988.5 639.2,979.8 631.9,974.3 641.0,974.1" fill="#8C8C00"/>
<polygon points="700.9,926.5 703.9,935.1 713.0,935.3 705.8,940.7 708.4,949.4 700.9,944.2 693.5,949.4 696.1,940.7 688.9,935.3 698.0,935.1" fill="#8C8C00"/>
<polygon points="772.7,767.8 775.7,776.4 784.7,776.6 777.5,782.1 780.1,790.8 772.7,785.6 765.2,790.8 767.9,782.1 760.6,776.6 769.7,776.4" fill="#8C8C00"/>
<polygon points="820.0,527.2 822.9,535.7 832.0,535.9 824.8,541.4 827.4,550.1 820.0,544.9 812.5,550.1 815.1,541.4 807.9,535.9 817.0,535.7" fill="#8C8C00"/>
<polygon points="855.2,336.8 858.2,345.3 867.3,345.5 860.1,351.0 862.7,359.7 855.2,354.5 847.8,359.7 850.4,351.0 843.2,345.5 852.3,345.3" fill="#8C8C00"/>
<polygon points="883.4,317.2 886.4,325.8 895.5,326.0 888.3,331.5 890.9,340.1 883.4,335.0 876.0,340.1 878.6,331.5 871.4,326.0 880.5,325.8" fill="#8C8C00"/>
<polygon points="906.9,426.1 909.9,434.7 918.9,434.8 911.7,440.3 914.3,449.0 906.9,443.8 899.4,449.0 902.1,440.3 894.8,434.8 903.9,434.7" fill="#8C8C00"/>
<polygon points="927.0,552.5 930.0,561.1 939.0,561.3 931.8,566.8 934.4,575.5 927.0,570.3 919.5,575.5 922.2,566.8 914.9,561.3 924.0,561.1" fill="#8C8C00"/>
<polygon points="944.6,659.5 947.6,668.0 956.6,668.2 949.4,673.7 952.0,682.4 944.6,677.2 937.1,682.4 939.8,673.7 932.5,668.2 941.6,668.0" fill="#8C8C00"/>
<polygon points="960.2,739.5 963.2,748.1 972.2,748.3 965.0,753.8 967.6,762.4 960.2,757.3 952.7,762.4 955.4,753.8 948.1,748.3 957.2,748.1" fill="#8C8C00"/>
<polygon points="967.4,781.0 970.4,789.6 979.5,789.8 972.2,795.3 974.8,803.9 967.4,798.8 960.0,803.9 962.6,795.3 955.3,789.8 964.4,789.6" fill="#8C8C00"/>
<polygon points="1024.3,882.6 1027.3,891.1 1036.4,891.3 1029.2,896.8 1031.8,905.5 1024.3,900.3 1016.9,905.5 1019.5,896.8 1012.3,891.3 1021.4,891.1" fill="#8C8C00"/>
<polygon points="1064.8,940.2 1067.7,948.7 1076.8,948.9 1069.6,954.4 1072.2,963.1 1064.8,957.9 1057.3,963.1 1059.9,954.4 1052.7,948.9 1061.8,948.7" fill="#8C8C00"/>
<polygon points="1096.1,969.9 1099.1,978.5 1108.1,978.7 1100.9,984.2 1103.5,992.9 1096.1,987.7 1088.6,992.9 1091.3,984.2 1084.0,978.7 1093.1,978.5" fill="#8C8C00"/>
<polygon points="1121.7,985.1 1124.7,993.7 1133.8,993.8 1126.5,999.3 1129.1,1008.0 1121.7,1002.8 1114.3,1008.0 1116.9,999.3 1109.6,993.8 1118.7,993.7" fill="#8C8C00"/>
<polygon points="1143.4,992.4 1146.3,1001.0 1155.4,1001.2 1148.2,1006.6 1150.8,1015.3 1143.4,1010.1 1135.9,1015.3 1138.5,1006.6 1131.3,1001.2 1140.4,1001.0" fill="#8C8C00"/>
<polygon points="1162.1,995.8 1165.1,1004.4 1174.2,1004.6 1166.9,1010.1 1169.6,1018.7 1162.1,1013.6 1154.7,1018.7 1157.3,1010.1 1150.1,1004.6 1159.1,1004.4" fill="#8C8C00"/>
<polygon points="1178.6,999.7 1181.6,1008.3 1190.7,1008.5 1183.5,1014.0 1186.1,1022.7 1178.6,1017.5 1171.2,1022.7 1173.8,1014.0 1166.6,1008.5 1175.7,1008.3" fill="#8C8C00"/>
<polygon points="1193.4,999.7 1196.4,1008.3 1205.5,1008.5 1198.3,1014.0 1200.9,1022.7 1193.4,1017.5 1186.0,1022.7 1188.6,1014.0 1181.4,1008.5 1190.5,1008.3" fill="#8C8C00"/>
<polygon points="1206.8,999.7 1209.8,1008.3 1218.9,1008.5 1211.7,1014.0 1214.3,1022.7 1206.8,1017.5 1199.4,1022.7 1202.0,1014.0 1194.8,1008.5 1203.9,1008.3" fill="#8C8C00"/>
<polygon points="1219.1,999.7 1222.0,1008.3 1231.1,1008.5 1223.9,1014.0 1226.5,1022.7 1219.1,1017.5 1211.6,1022.7 1214.2,1014.0 1207.0,1008.5 1216.1,1008.3" fill="#8C8C00"/>
<polygon points="1224.8,999.7 1227.8,1008.3 1236.8,1008.5 1229.6,1014.0 1232.2,1022.7 1224.8,1017.5 1217.3,1022.7 1220.0,1014.0 1212.7,1008.5 1221.8,1008.3" fill="#8C8C00"/>
<polygon points="1230.3,999.7 1233.3,1008.3 1242.3,1008.5 1235.1,1014.0 1237.7,1022.7 1230.3,1017.5 1222.8,1022.7 1225.5,1014.0 1218.2,1008.5 1227.3,1008.3" fill="#8C8C00"/>
<polygon points="1235.6,999.7 1238.6,1008.3 1247.6,1008.5 1240.4,1014.0 1243.0,1022.7 1235.6,1017.5 1228.1,1022.7 1230.8,1014.0 1223.5,1008.5 1232.6,1008.3" fill="#8C8C00"/>
<polygon points="1240.7,999.7 1243.7,1008.3 1252.8,1008.5 1245.5,1014.0 1248.2,1022.7 1240.7,1017.5 1233.3,1022.7 1235.9,1014.0 1228.7,1008.5 1237.7,1008.3" fill="#8C8C00"/>
<polygon points="1245.6,999.7 1248.6,1008.3 1257.7,1008.5 1250.5,1014.0 1253.1,1022.7 1245.6,1017.5 1238.2,1022.7 1240.8,1014.0 1233.6,1008.5 1242.7,1008.3" fill="#8C8C00"/>
<polygon points="1250.4,999.7 1253.4,1008.3 1262.4,1008.5 1255.2,1014.0 1257.8,1022.7 1250.4,1017.5 1242.9,1022.7 1245.6,1014.0 1238.3,1008.5 1247.4,1008.3" fill="#8C8C00"/>
<polygon points="1255.0,999.7 1258.0,1008.3 1267.1,1008.5 1259.8,1014.0 1262.4,1022.7 1255.0,1017.5 1247.6,1022.7 1250.2,1014.0 1242.9,1008.5 1252.0,1008.3" fill="#8C8C00"/>
<polygon points="1259.5,999.7 1262.4,1008.3 1271.5,1008.5 1264.3,1014.0 1266.9,1022.7 1259.5,1017.5 1252.0,1022.7 1254.6,1014.0 1247.4,1008.5 1256.5,1008.3" fill="#8C8C00"/>
<polygon points="1263.8,999.7 1266.8,1008.3 1275.8,1008.5 1268.6,1014.0 1271.2,1022.7 1263.8,1017.5 1256.3,1022.7 1259.0,1014.0 1251.7,1008.5 1260.8,1008.3" fill="#8C8C00"/>
<polygon points="1268.0,999.7 1271.0,1008.3 1280.0,1008.5 1272.8,1014.0 1275.4,1022.7 1268.0,1017.5 1260.5,1022.7 1263.2,1014.0 1255.9,1008.5 1265.0,1008.3" fill="#8C8C00"/>
<polygon points="1272.0,999.7 1275.0,1008.3 1284.1,1008.5 1276.9,1014.0 1279.5,1022.7 1272.0,1017.5 1264.6,1022.7 1267.2,1014.0 1260.0,1008.5 1269.1,1008.3" fill="#8C8C00"/>
<polygon points="1276.0,999.7 1279.0,1008.3 1288.1,1008.5 1280.8,1014.0 1283.5,1022.7 1276.0,1017.5 1268.6,1022.7 1271.2,1014.0 1264.0,1008.5 1273.0,1008.3" fill="#8C8C00"/>
<polygon points="1279.9,999.7 1282.8,1008.3 1291.9,1008.5 1284.7,1014.0 1287.3,1022.7 1279.9,1017.5 1272.4,1022.7 1275.0,1014.0 1267.8,1008.5 1276.9,1008.3" fill="#8C8C00"/>
<polygon points="1283.6,999.7 1286.6,1008.3 1295.6,1008.5 1288.4,1014.0 1291.0,1022.7 1283.6,1017.5 1276.1,1022.7 1278.8,1014.0 1271.5,1008.5 1280.6,1008.3" fill="#8C8C00"/>
<polygon points="1287.2,999.7 1290.2,1008.3 1299.3,1008.5 1292.1,1014.0 1294.7,1022.7 1287.2,1017.5 1279.8,1022.7 1282.4,1014.0 1275.2,1008.5 1284.3,1008.3" fill="#8C8C00"/>
<polygon points="1290.8,999.7 1293.8,1008.3 1302.9,1008.5 1295.6,1014.0 1298.2,1022.7 1290.8,1017.5 1283.4,1022.7 1286.0,1014.0 1278.7,1008.5 1287.8,1008.3" fill="#8C8C00"/>
<polygon points="1614.2,999.7 1617.2,1008.3 1626.3,1008.5 1619.0,1014.0 1621.6,1022.7 1614.2,1017.5 1606.8,1022.7 1609.4,1014.0 1602.1,1008.5 1611.2,1008.3" fill="#8C8C00"/>
</g>
<g><polyline points="320.6,1011.4 572.3,995.8 644.0,975.8 700.9,930.9 772.7,755.6 820.0,485.6 855.2,271.3 883.4,246.4 906.9,364.6 927.0,505.6 944.6,624.3 960.2,715.1 967.4,762.9 1024.3,878.6 1064.8,945.5 1096.1,979.7 1121.7,996.8 1143.4,1004.1 1162.1,1008.0 1178.6,1012.4 1193.4,1012.4 1206.8,1012.4 1219.1,1012.4 1224.8,1012.4 1230.3,1012.4 1235.6,1012.4 1240.7,1012.4 1245.6,1012.4 1250.4,1012.4 1255.0,1012.4 1259.5,1012.4 1263.8,1012.4 1268.0,1012.4 1272.0,1012.4 1276.0,1012.4 1279.9,1012.4 1283.6,1012.4 1287.2,1012.4 1290.8,1012.4" fill="none" stroke="#FF6500" stroke-width="4.6" stroke-linejoin="round"/>
<polyline points="223.2,1011.4 320.6,1011.4" fill="none" stroke="#FF6500" stroke-width="4.0"/>
<polyline points="1290.8,1012.4 1614.2,1012.4" fill="none" stroke="#FF6500" stroke-width="3.9"/>
<polyline points="320.6,1011.4 572.3,995.8 644.0,975.8 700.9,930.9" fill="none" stroke="#FF6500" stroke-width="5.3" stroke-linejoin="round"/>
<polygon points="223.2,999.0 235.0,1007.6 230.5,1021.4 216.0,1021.4 211.5,1007.6" fill="#FF6500"/>
<polygon points="320.6,999.0 332.4,1007.6 327.9,1021.4 313.3,1021.4 308.8,1007.6" fill="#FF6500"/>
<polygon points="572.3,983.4 584.0,992.0 579.5,1005.8 565.0,1005.8 560.5,992.0" fill="#FF6500"/>
<polygon points="644.0,963.4 655.8,972.0 651.3,985.8 636.7,985.8 632.2,972.0" fill="#FF6500"/>
<polygon points="700.9,918.5 712.7,927.0 708.2,940.9 693.7,940.9 689.2,927.0" fill="#FF6500"/>
<polygon points="772.7,743.2 784.5,751.8 780.0,765.6 765.4,765.6 760.9,751.8" fill="#FF6500"/>
<polygon points="820.0,473.2 831.7,481.8 827.2,495.7 812.7,495.7 808.2,481.8" fill="#FF6500"/>
<polygon points="855.2,258.9 867.0,267.5 862.5,281.3 848.0,281.3 843.5,267.5" fill="#FF6500"/>
<polygon points="883.4,234.0 895.2,242.6 890.7,256.4 876.2,256.4 871.7,242.6" fill="#FF6500"/>
<polygon points="906.9,352.2 918.7,360.7 914.2,374.6 899.6,374.6 895.1,360.7" fill="#FF6500"/>
<polygon points="927.0,493.3 938.8,501.8 934.3,515.7 919.7,515.7 915.2,501.8" fill="#FF6500"/>
<polygon points="944.6,611.9 956.4,620.5 951.9,634.3 937.3,634.3 932.8,620.5" fill="#FF6500"/>
<polygon points="960.2,702.7 972.0,711.3 967.5,725.1 952.9,725.1 948.4,711.3" fill="#FF6500"/>
<polygon points="967.4,750.5 979.2,759.1 974.7,772.9 960.1,772.9 955.6,759.1" fill="#FF6500"/>
<polygon points="1024.3,866.2 1036.1,874.8 1031.6,888.7 1017.1,888.7 1012.6,874.8" fill="#FF6500"/>
<polygon points="1064.8,933.1 1076.5,941.7 1072.0,955.5 1057.5,955.5 1053.0,941.7" fill="#FF6500"/>
<polygon points="1096.1,967.3 1107.9,975.9 1103.4,989.7 1088.8,989.7 1084.3,975.9" fill="#FF6500"/>
<polygon points="1121.7,984.4 1133.5,993.0 1129.0,1006.8 1114.4,1006.8 1109.9,993.0" fill="#FF6500"/>
<polygon points="1143.4,991.7 1155.1,1000.3 1150.6,1014.1 1136.1,1014.1 1131.6,1000.3" fill="#FF6500"/>
<polygon points="1162.1,995.6 1173.9,1004.2 1169.4,1018.0 1154.8,1018.0 1150.3,1004.2" fill="#FF6500"/>
<polygon points="1178.6,1000.0 1190.4,1008.6 1185.9,1022.4 1171.4,1022.4 1166.9,1008.6" fill="#FF6500"/>
<polygon points="1193.4,1000.0 1205.2,1008.6 1200.7,1022.4 1186.2,1022.4 1181.7,1008.6" fill="#FF6500"/>
<polygon points="1206.8,1000.0 1218.6,1008.6 1214.1,1022.4 1199.6,1022.4 1195.1,1008.6" fill="#FF6500"/>
<polygon points="1219.1,1000.0 1230.8,1008.6 1226.3,1022.4 1211.8,1022.4 1207.3,1008.6" fill="#FF6500"/>
<polygon points="1224.8,1000.0 1236.6,1008.6 1232.1,1022.4 1217.5,1022.4 1213.0,1008.6" fill="#FF6500"/>
<polygon points="1230.3,1000.0 1242.1,1008.6 1237.6,1022.4 1223.0,1022.4 1218.5,1008.6" fill="#FF6500"/>
<polygon points="1235.6,1000.0 1247.4,1008.6 1242.9,1022.4 1228.3,1022.4 1223.8,1008.6" fill="#FF6500"/>
<polygon points="1240.7,1000.0 1252.5,1008.6 1248.0,1022.4 1233.4,1022.4 1228.9,1008.6" fill="#FF6500"/>
<polygon points="1245.6,1000.0 1257.4,1008.6 1252.9,1022.4 1238.4,1022.4 1233.9,1008.6" fill="#FF6500"/>
<polygon points="1250.4,1000.0 1262.2,1008.6 1257.7,1022.4 1243.1,1022.4 1238.6,1008.6" fill="#FF6500"/>
<polygon points="1255.0,1000.0 1266.8,1008.6 1262.3,1022.4 1247.7,1022.4 1243.2,1008.6" fill="#FF6500"/>
<polygon points="1259.5,1000.0 1271.2,1008.6 1266.7,1022.4 1252.2,1022.4 1247.7,1008.6" fill="#FF6500"/>
<polygon points="1263.8,1000.0 1275.6,1008.6 1271.1,1022.4 1256.5,1022.4 1252.0,1008.6" fill="#FF6500"/>
<polygon points="1268.0,1000.0 1279.8,1008.6 1275.3,1022.4 1260.7,1022.4 1256.2,1008.6" fill="#FF6500"/>
<polygon points="1272.0,1000.0 1283.8,1008.6 1279.3,1022.4 1264.8,1022.4 1260.3,1008.6" fill="#FF6500"/>
<polygon points="1276.0,1000.0 1287.8,1008.6 1283.3,1022.4 1268.7,1022.4 1264.2,1008.6" fill="#FF6500"/>
<polygon points="1279.9,1000.0 1291.6,1008.6 1287.1,1022.4 1272.6,1022.4 1268.1,1008.6" fill="#FF6500"/>
<polygon points="1283.6,1000.0 1295.4,1008.6 1290.9,1022.4 1276.3,1022.4 1271.8,1008.6" fill="#FF6500"/>
<polygon points="1287.2,1000.0 1299.0,1008.6 1294.5,1022.4 1280.0,1022.4 1275.5,1008.6" fill="#FF6500"/>
<polygon points="1290.8,1000.0 1302.6,1008.6 1298.1,1022.4 1283.5,1022.4 1279.0,1008.6" fill="#FF6500"/>
<polygon points="1614.2,1000.0 1626.0,1008.6 1621.5,1022.4 1606.9,1022.4 1602.4,1008.6" fill="#FF6500"/>
</g>
</g>
<path d="M248.3 1156.7V1146.2M269.9 1156.7V1146.2M288.7 1156.7V1146.2M305.2 1156.7V1146.2M320.0 1156.7V1135.7M417.4 1156.7V1146.2M474.3 1156.7V1146.2M514.7 1156.7V1146.2M546.0 1156.7V1146.2M571.7 1156.7V1146.2M593.3 1156.7V1146.2M612.1 1156.7V1146.2M628.6 1156.7V1146.2M644.0 1156.7V1135.7M740.8 1156.7V1146.2M797.7 1156.7V1146.2M838.1 1156.7V1146.2M869.4 1156.7V1146.2M895.1 1156.7V1146.2M916.7 1156.7V1146.2M935.5 1156.7V1146.2M952.0 1156.7V1146.2M966.0 1156.7V1135.7M1064.2 1156.7V1146.2M1121.1 1156.7V1146.2M1161.5 1156.7V1146.2M1192.8 1156.7V1146.2M1218.5 1156.7V1146.2M1240.1 1156.7V1146.2M1258.9 1156.7V1146.2M1275.4 1156.7V1146.2M1289.6 1156.7V1135.7M1387.6 1156.7V1146.2M1444.5 1156.7V1146.2M1484.9 1156.7V1146.2M1516.2 1156.7V1146.2M1541.9 1156.7V1146.2M1563.5 1156.7V1146.2M1582.3 1156.7V1146.2M1598.8 1156.7V1146.2M223.0 1133.9H233.5M223.0 1011.9H244.0M223.0 889.9H233.5M223.0 767.9H244.0M223.0 645.9H233.5M223.0 523.9H244.0M223.0 401.9H233.5M223.0 279.9H244.0M223.0 157.9H233.5" stroke="#000" stroke-width="3.1" fill="none"/>
<rect x="223.0" y="36.2" width="1390.6" height="1120.5" fill="none" stroke="#000" stroke-width="3.3"/>
<line x1="221.0" y1="1160.4" x2="1615.6" y2="1160.4" stroke="#ebebeb" stroke-width="1.2"/>
<rect x="1123.3" y="36.2" width="490.3" height="650.7" fill="#fff" stroke="#000" stroke-width="3.1"/>
<line x1="1162.2" y1="107.8" x2="1276.6" y2="107.8" stroke="#4B4B4B" stroke-width="1.7"/>
<rect x="1206.8" y="95.2" width="25.2" height="25.2" fill="#4B4B4B"/>
<text x="1285.8" y="120.7" font-size="42.3">0.1MeV·cm<tspan x="1497.0" font-size="26.8" dy="-18.5">2</tspan><tspan x="1510.6" dy="18.5">/mg</tspan></text>
<line x1="1162.2" y1="167.6" x2="1276.6" y2="167.6" stroke="#FF4040" stroke-width="1.7"/>
<circle cx="1219.4" cy="167.6" r="13.7" fill="#FF4040"/>
<text x="1285.8" y="180.5" font-size="42.3">0.2MeV·cm<tspan x="1497.0" font-size="26.8" dy="-18.5">2</tspan><tspan x="1510.6" dy="18.5">/mg</tspan></text>
<line x1="1162.2" y1="225.3" x2="1276.6" y2="225.3" stroke="#0070E0" stroke-width="1.7"/>
<polygon points="1219.4,207.6 1235.8,236.4 1203.0,236.4" fill="#0070E0"/>
<text x="1285.8" y="238.2" font-size="42.3">0.3MeV·cm<tspan x="1497.0" font-size="26.8" dy="-18.5">2</tspan><tspan x="1510.6" dy="18.5">/mg</tspan></text>
<line x1="1162.2" y1="285.3" x2="1276.6" y2="285.3" stroke="#00A960" stroke-width="1.7"/>
<polygon points="1219.4,305.6 1235.8,276.9 1203.0,276.9" fill="#00A960"/>
<text x="1285.8" y="298.2" font-size="42.3">0.4MeV·cm<tspan x="1497.0" font-size="26.8" dy="-18.5">2</tspan><tspan x="1510.6" dy="18.5">/mg</tspan></text>
<line x1="1162.2" y1="344.5" x2="1276.6" y2="344.5" stroke="#C07FE0" stroke-width="2.0"/>
<polygon points="1219.4,327.1 1236.8,344.5 1219.4,361.9 1202.0,344.5" fill="#C07FE0"/>
<text x="1285.8" y="357.4" font-size="42.3">0.5MeV·cm<tspan x="1497.0" font-size="26.8" dy="-18.5">2</tspan><tspan x="1510.6" dy="18.5">/mg</tspan></text>
<line x1="1162.2" y1="404.5" x2="1276.6" y2="404.5" stroke="#DD9900" stroke-width="2.6"/>
<polygon points="1200.4,404.5 1229.4,387.9 1229.4,421.1" fill="#DD9900"/>
<text x="1285.8" y="417.4" font-size="42.3">0.6MeV·cm<tspan x="1497.0" font-size="26.8" dy="-18.5">2</tspan><tspan x="1510.6" dy="18.5">/mg</tspan></text>
<line x1="1162.2" y1="464.1" x2="1276.6" y2="464.1" stroke="#00CCCC" stroke-width="3.0"/>
<polygon points="1238.8,464.1 1210.0,447.2 1210.0,481.0" fill="#00CCCC"/>
<text x="1285.8" y="477.0" font-size="42.3">0.7MeV·cm<tspan x="1497.0" font-size="26.8" dy="-18.5">2</tspan><tspan x="1510.6" dy="18.5">/mg</tspan></text>
<line x1="1162.2" y1="523.2" x2="1276.6" y2="523.2" stroke="#8B4F50" stroke-width="1.7"/>
<polygon points="1219.4,507.3 1232.7,515.3 1232.7,531.1 1219.4,539.1 1206.1,531.1 1206.1,515.3" fill="#8B4F50"/>
<text x="1285.8" y="536.1" font-size="42.3">0.8MeV·cm<tspan x="1497.0" font-size="26.8" dy="-18.5">2</tspan><tspan x="1510.6" dy="18.5">/mg</tspan></text>
<line x1="1162.2" y1="583.0" x2="1276.6" y2="583.0" stroke="#8C8C00" stroke-width="1.9"/>
<polygon points="1219.4,565.8 1223.4,577.4 1235.7,577.7 1225.9,585.1 1229.5,596.9 1219.4,589.9 1209.3,596.9 1212.9,585.1 1203.1,577.7 1215.4,577.4" fill="#8C8C00"/>
<text x="1285.8" y="595.9" font-size="42.3">0.9MeV·cm<tspan x="1497.0" font-size="26.8" dy="-18.5">2</tspan><tspan x="1510.6" dy="18.5">/mg</tspan></text>
<line x1="1162.2" y1="641.5" x2="1276.6" y2="641.5" stroke="#FF6500" stroke-width="1.7"/>
<polygon points="1219.4,624.7 1235.3,636.3 1229.3,655.1 1209.5,655.1 1203.5,636.3" fill="#FF6500"/>
<text x="1285.8" y="654.4" font-size="42.3">1.0MeV·cm<tspan x="1497.0" font-size="26.8" dy="-18.5">2</tspan><tspan x="1510.6" dy="18.5">/mg</tspan></text>
<text x="198.3" y="52.5" font-size="52.7" text-anchor="end">0.20</text>
<text x="198.3" y="296.5" font-size="52.7" text-anchor="end">0.15</text>
<text x="198.3" y="540.5" font-size="52.7" text-anchor="end">0.10</text>
<text x="198.3" y="784.5" font-size="52.7" text-anchor="end">0.05</text>
<text x="198.3" y="1028.5" font-size="52.7" text-anchor="end">0.00</text>
<text x="319.0" y="1222" font-size="52.7" text-anchor="middle">0.1</text>
<text x="642.8" y="1222" font-size="52.7" text-anchor="middle">1</text>
<text x="967.0" y="1222" font-size="52.7" text-anchor="middle">10</text>
<text x="1290.8" y="1222" font-size="52.7" text-anchor="middle">100</text>
<text x="1614.0" y="1222" font-size="52.7" text-anchor="middle">1000</text>
<text x="918.5" y="1315.7" font-size="58.5" text-anchor="middle">Transient time (ps)</text>
<text transform="translate(56.8 596.2) rotate(-90)" font-size="58.5" text-anchor="middle">Drain Current (mA)</text>
</svg></body></html>
